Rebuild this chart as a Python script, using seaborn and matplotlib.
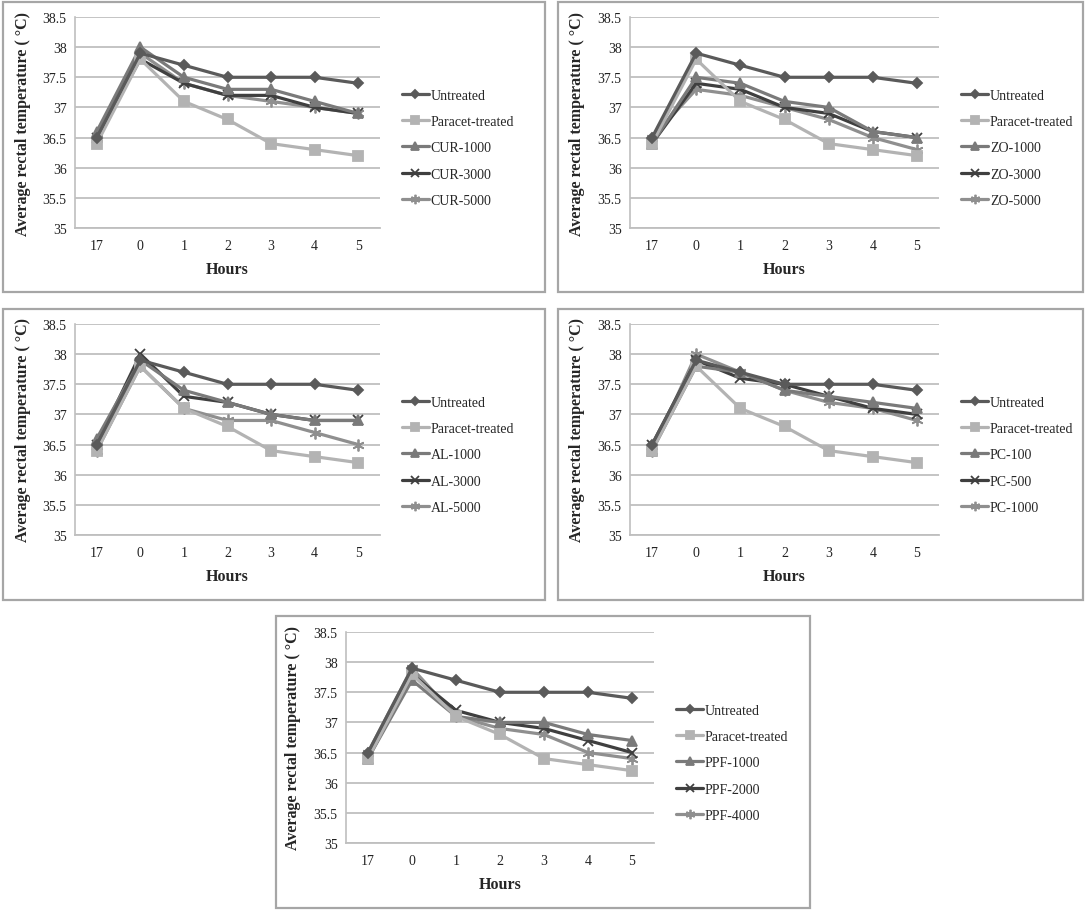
import numpy as np
import pandas as pd
import matplotlib
matplotlib.use("Agg")
import matplotlib.pyplot as plt
from matplotlib.patches import Rectangle
from matplotlib.ticker import FuncFormatter, MultipleLocator
import seaborn as sns

sns.set_style("white")
plt.rcParams['font.family'] = ['Liberation Serif', 'DejaVu Serif']

# ---------------- data ----------------
hours = ["17", "0", "1", "2", "3", "4", "5"]

untreated = [36.5, 37.9, 37.7, 37.5, 37.5, 37.5, 37.4]
paracet = [36.4, 37.8, 37.1, 36.8, 36.4, 36.3, 36.2]

cur_labels = ["CUR-1000", "CUR-3000", "CUR-5000"]
cur_1000 = [36.6, 38.0, 37.5, 37.3, 37.3, 37.1, 36.9]
cur_3000 = [36.5, 37.8, 37.4, 37.2, 37.2, 37.0, 36.9]
cur_5000 = [36.5, 37.9, 37.4, 37.2, 37.1, 37.0, 36.9]

zo_labels = ["ZO-1000", "ZO-3000", "ZO-5000"]
zo_1000 = [36.4, 37.5, 37.4, 37.1, 37.0, 36.6, 36.5]
zo_3000 = [36.4, 37.4, 37.3, 37.0, 36.9, 36.6, 36.5]
zo_5000 = [36.5, 37.3, 37.2, 37.0, 36.8, 36.5, 36.3]

al_labels = ["AL-1000", "AL-3000", "AL-5000"]
al_1000 = [36.6, 37.9, 37.4, 37.2, 37.0, 36.9, 36.9]
al_3000 = [36.5, 38.0, 37.3, 37.2, 37.0, 36.9, 36.9]
al_5000 = [36.4, 37.8, 37.1, 36.9, 36.9, 36.7, 36.5]

pc_labels = ["PC-100", "PC-500", "PC-1000"]
pc_100 = [36.4, 37.8, 37.7, 37.4, 37.3, 37.2, 37.1]
pc_500 = [36.5, 37.9, 37.6, 37.5, 37.3, 37.1, 37.0]
pc_1000 = [36.4, 38.0, 37.7, 37.4, 37.2, 37.1, 36.9]

ppf_labels = ["PPF-1000", "PPF-2000", "PPF-4000"]
ppf_1000 = [36.4, 37.7, 37.1, 37.0, 37.0, 36.8, 36.7]
ppf_2000 = [36.4, 37.8, 37.2, 37.0, 36.9, 36.7, 36.5]
ppf_4000 = [36.5, 37.9, 37.1, 36.9, 36.8, 36.5, 36.4]

panels = [
    (cur_labels, [cur_1000, cur_3000, cur_5000]),
    (zo_labels, [zo_1000, zo_3000, zo_5000]),
    (al_labels, [al_1000, al_3000, al_5000]),
    (pc_labels, [pc_100, pc_500, pc_1000]),
    (ppf_labels, [ppf_1000, ppf_2000, ppf_4000]),
]

# ---------------- styles ----------------
W, H = 1086, 912
colors = ["#5a5a5a", "#b3b3b3", "#7a7a7a", "#3f3f3f", "#8f8f8f"]
markers = ["D", "s", "^", "x", (6, 2, 0)]
msizes = [5.5, 7.5, 7, 7.5, 8.5]
grid_col = "#bfbfbf"
frame_col = "#a6a6a6"

# axes boxes in pixels: (left, top, right, bottom)
axes_px = [
    (75, 18, 380, 229),
    (630, 18, 939, 229),
    (75, 325, 380, 536),
    (630, 325, 939, 536),
    (346, 633, 654, 844),
]
frames_px = [
    (3, 3, 545, 293),
    (558, 3, 1083, 293),
    (3, 310, 545, 601),
    (558, 310, 1083, 601),
    (276, 617, 810, 909),
]

fig = plt.figure(figsize=(W / 100, H / 100), dpi=100)

for (l, t, r, b) in frames_px:
    fig.patches.append(Rectangle((l / W, 1 - b / H), (r - l) / W, (b - t) / H,
                                 transform=fig.transFigure, fill=False,
                                 edgecolor=frame_col, linewidth=1.6, zorder=0))

x_pos = np.arange(len(hours))

for (labels, series), (l, t, r, b) in zip(panels, axes_px):
    ax = fig.add_axes([l / W, 1 - b / H, (r - l) / W, (b - t) / H])
    names = ["Untreated", "Paracet-treated"] + labels
    values = [untreated, paracet] + series
    for i, (name, vals) in enumerate(zip(names, values)):
        df = pd.DataFrame({"x": x_pos, "temp": vals})
        sns.lineplot(data=df, x="x", y="temp", ax=ax, color=colors[i],
                     marker=markers[i], markersize=msizes[i],
                     markeredgecolor=colors[i], markeredgewidth=1.3,
                     linewidth=2.3, label=name, zorder=3 + (4 - i) * 0.1)
    ax.set_xlim(-0.5, len(hours) - 0.5)
    ax.set_ylim(35, 38.5)
    ax.yaxis.set_major_locator(MultipleLocator(0.5))
    ax.yaxis.set_major_formatter(FuncFormatter(lambda v, p: f"{v:g}"))
    ax.set_xticks(x_pos)
    ax.set_xticklabels(hours)
    ax.grid(axis="y", color=grid_col, linewidth=1.3)
    ax.grid(axis="x", visible=False)
    ax.set_axisbelow(True)
    for s in ["top", "right"]:
        ax.spines[s].set_visible(False)
    ax.spines["left"].set_color(grid_col)
    ax.spines["bottom"].set_color(grid_col)
    ax.spines["left"].set_linewidth(1.2)
    ax.spines["bottom"].set_linewidth(1.3)
    ax.tick_params(axis="both", length=0, labelsize=10, colors="#222222")
    ax.tick_params(axis="x", pad=8)
    ax.tick_params(axis="y", pad=6)
    ax.set_xlabel("Hours", fontsize=11.5, fontweight="bold")
    ax.set_ylabel("Average rectal temperature ( °C)", fontsize=11.5, fontweight="bold")
    ax.xaxis.set_label_coords(0.5, -0.155)
    ax.yaxis.set_label_coords(-0.145, 0.5)
    leg = ax.legend(loc="center left", bbox_to_anchor=(1.05, 0.38), frameon=False,
                    fontsize=10, handlelength=1.9, handletextpad=0.15,
                    labelspacing=0.95, borderpad=0, markerscale=0.8)

fig.savefig("out.png", dpi=100)
